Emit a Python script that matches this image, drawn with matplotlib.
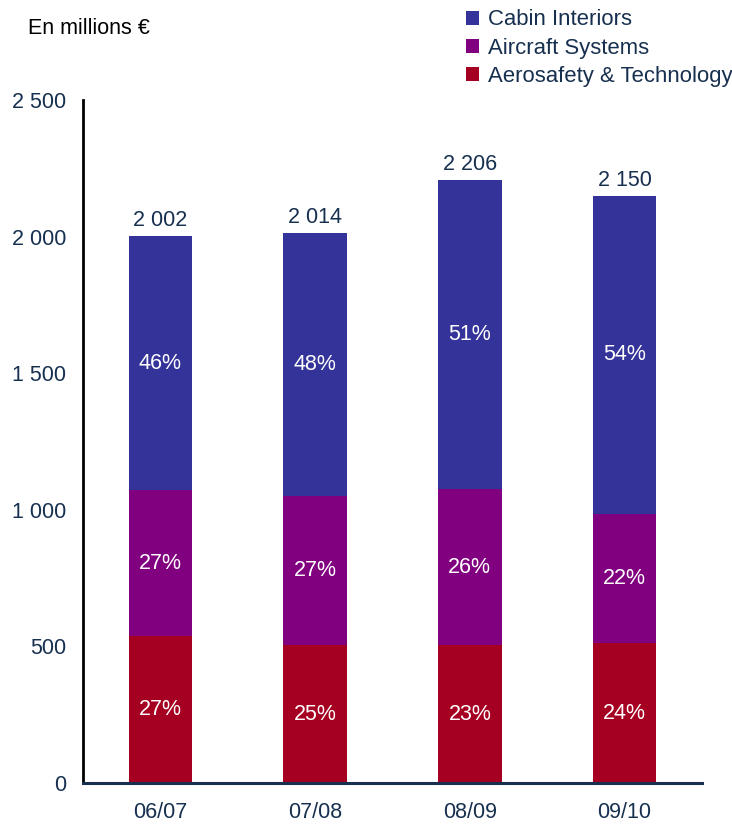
import numpy as np
import matplotlib.pyplot as plt

# chiffre d'affaires par activite, en millions d'euros
years = ['06/07', '07/08', '08/09', '09/10']
aerosafety = [537, 505, 505, 512]
aircraft = [535, 545, 570, 473]
cabin = [930, 964, 1131, 1165]

series = ['Aerosafety & Technology', 'Aircraft Systems', 'Cabin Interiors']
colors = ['#A50021', '#800080', '#333399']
txt = '#17304F'


def fmt(v):
    return '{:,}'.format(int(v)).replace(',', ' ')


plt.rcParams['font.family'] = ['Liberation Sans', 'DejaVu Sans']

fig = plt.figure(figsize=(7.32, 8.25), dpi=100)
ax = fig.add_axes([0.1134, 0.0509, 0.8456, 0.8279])

x = np.arange(len(years))
data = [aerosafety, aircraft, cabin]
totals = np.sum(data, axis=0)
bottom = np.zeros(len(years))
handles = []
for vals, name, c in zip(data, series, colors):
    vals = np.array(vals, dtype=float)
    b = ax.bar(x, vals, 0.41, bottom=bottom, color=c, label=name)
    handles.append(b)
    for xi, v, b0, t in zip(x, vals, bottom, totals):
        ax.text(xi, b0 + v / 2, '%d%%' % round(100 * v / t), ha='center',
                va='center', color='white', fontsize=15.5)
    bottom += vals

for xi, t in zip(x, totals):
    ax.text(xi, t + 18, fmt(t), ha='center', va='bottom', color=txt,
            fontsize=15.5)

ax.set_xlim(-0.5, 3.5)
ax.set_ylim(0, 2500)
ax.set_yticks(np.arange(0, 2501, 500))
ax.set_yticklabels([fmt(v) for v in np.arange(0, 2501, 500)])
ax.set_xticks(x)
ax.set_xticklabels(years)
ax.tick_params(length=0, labelsize=15.5, labelcolor=txt)
ax.tick_params(axis='y', pad=12)
ax.tick_params(axis='x', pad=14)

for s in ['top', 'right']:
    ax.spines[s].set_visible(False)
ax.spines['left'].set_color('black')
ax.spines['left'].set_linewidth(2)
ax.spines['bottom'].set_color(txt)
ax.spines['bottom'].set_linewidth(2.2)

leg = ax.legend(handles[::-1], series[::-1], loc='upper left',
                bbox_to_anchor=(0.6366, 0.9885), bbox_transform=fig.transFigure,
                frameon=False, fontsize=15.9, handlelength=0.6,
                handleheight=0.6, handletextpad=0.4, labelspacing=0.32,
                borderaxespad=0.0, borderpad=0.0)
for t in leg.get_texts():
    t.set_color(txt)

fig.text(0.038, 0.966, 'En millions €', fontsize=15.5, color='black',
         va='center')

fig.savefig('out.png', dpi=100)
